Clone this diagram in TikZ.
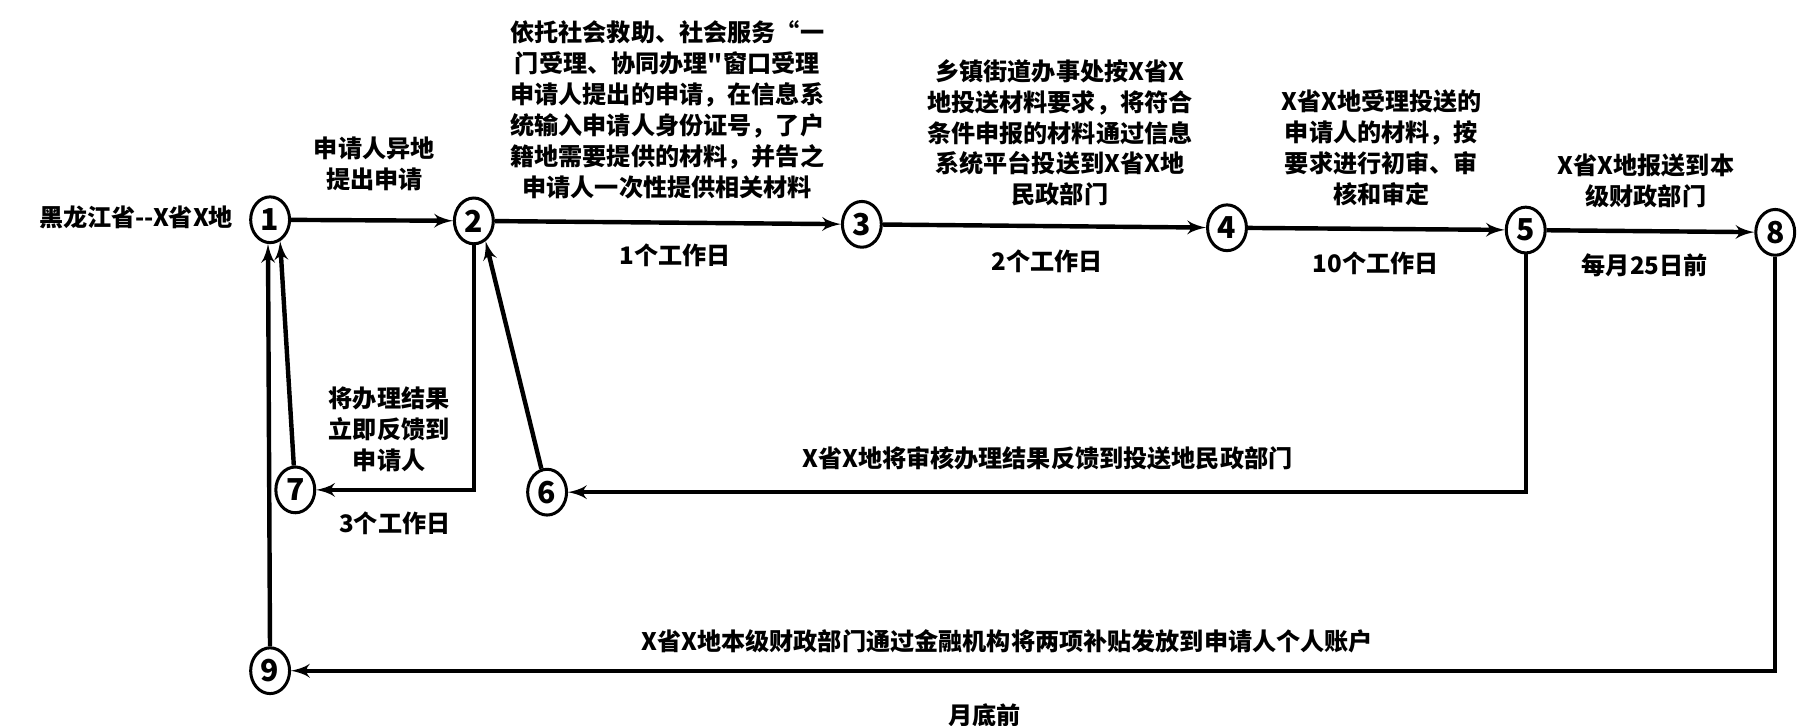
\documentclass[tikz,border=0pt]{standalone}
\usepackage{fontspec}
\setmainfont{Noto Sans CJK SC}
\usetikzlibrary{shapes.geometric, arrows}
\tikzstyle{stage} = [ellipse, draw, line width=1.5pt, fill=white,
    minimum width=0.68cm, minimum height=0.8cm, inner sep=0pt,
    font=\bfseries\fontsize{15}{16}\selectfont]
\tikzstyle{line} = [draw, line width=2.2pt, -latex']
\tikzstyle{note} = [align=center, inner sep=0pt,
    font=\bfseries\fontsize{12}{15.4}\selectfont]

\begin{document}
\begin{tikzpicture}[x=0.02cm, y=-0.02cm]
                \useasboundingbox (0,0) rectangle (1570,634);
                \node [stage] at (236,192) (n1) {1};
                \node [stage] at (414,193) (n2) {2};
                \node [stage] at (753,196) (n3) {3};
                \node [stage] at (1072,199) (n4) {4};
                \node [stage] at (1333,201) (n5) {5};
                \node [stage] at (1551,203) (n8) {8};
                \node [stage] at (478,430) (n6) {6};
                \node [stage] at (258,428) (n7) {7};
                \node [stage] at (236,586) (n9) {9};
                \node [note, anchor=east] at (204,190) (start) {黑龙江省-{}-X省X地};
                \node [note] at (327,143) (apply) {申请人异地\\提出申请};
                \node [note] at (583,96) (accept) {依托社会救助、社会服务“一\\门受理、协同办理\textquotedbl 窗口受理\\申请人提出的申请，在信息系\\统输入申请人身份证号，了户\\籍地需要提供的材料，并告之\\申请人一次性提供相关材料};
                \node [note] at (590,223) (day1) {1个工作日};
                \node [note] at (926,116) (send) {乡镇街道办事处按X省X\\地投送材料要求，将符合\\条件申报的材料通过信息\\系统平台投送到X省X地\\民政部门};
                \node [note] at (915,228) (day2) {2个工作日};
                \node [note] at (1207,129) (check) {X省X地受理投送的\\申请人的材料，按\\要求进行初审、审\\核和审定};
                \node [note] at (1202,230) (day10) {10个工作日};
                \node [note] at (1438,158) (report) {X省X地报送到本\\级财政部门};
                \node [note] at (1437,232) (day25) {每月25日前};
                \node [note] at (340,375) (feedback) {将办理结果\\立即反馈到\\申请人};
                \node [note] at (345,457) (day3) {3个工作日};
                \node [note] at (915,400) (result) {X省X地将审核办理结果反馈到投送地民政部门};
                \node [note] at (880,560) (pay) {X省X地本级财政部门通过金融机构将两项补贴发放到申请人个人账户};
                \node [note] at (860,625) (monthend) {月底前};
                \path [line] (n1) -- (n2);
                \path [line] (n2) -- (n3);
                \path [line] (n3) -- (n4);
                \path [line] (n4) -- (n5);
                \path [line] (n5) -- (n8);
                \path [line] (n2.south) |- (n7);
                \path [line] (n5.south) |- (n6);
                \path [line] (n8.south) |- (n9);
                \path [line] (n6) -- (n2.-60);
                \path [line] (n7) -- (n1.-65);
                \path [line] (n9) -- (n1.-95);
            \end{tikzpicture}
\end{document}
